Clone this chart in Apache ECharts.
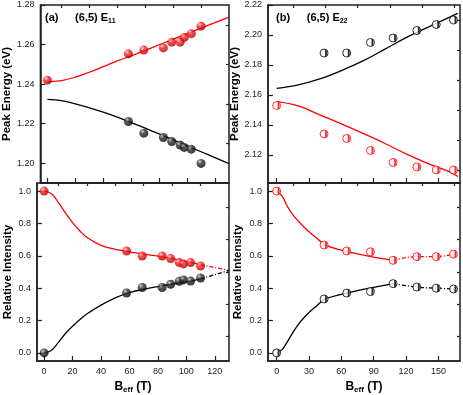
<!DOCTYPE html>
<html>
<head>
<meta charset="utf-8">
<script src="https://cdn.jsdelivr.net/npm/echarts@6/dist/echarts.min.js"></script>
<style>
  html, body { margin: 0; padding: 0; background: #fff; }
  #chart { width: 463px; height: 395px; }
</style>
</head>
<body>
<div id="chart"></div>
<script>
// ---------- (a) (6,5) E11 ----------
const beffA = [0, 58, 69, 83, 89, 95, 98, 103, 110];
const e11Up = [1.242, 1.2553, 1.2572, 1.2583, 1.2612, 1.2612, 1.2636, 1.2655, 1.2693];
const beffA2 = [58, 69, 83, 89, 95, 98, 103, 110];
const e11Down = [1.2211, 1.2152, 1.2130, 1.2110, 1.2092, 1.2080, 1.2071, 1.1999];
const intRedA = [1.0, 0.63, 0.599, 0.599, 0.583, 0.558, 0.55, 0.558, 0.537];
const intBlackA = [0.0, 0.37, 0.404, 0.404, 0.424, 0.443, 0.451, 0.444, 0.463];
// fitted curves
const fitXA = [0, 10, 20, 30, 40, 50, 60, 70, 80, 90, 100, 110, 120, 130];
const fitE11Up = [1.2413, 1.2418, 1.2435, 1.2460, 1.2488, 1.2517, 1.2543, 1.2571, 1.2599, 1.2627, 1.2655, 1.2683, 1.2711, 1.2739];
const fitE11Down = [1.2323, 1.2316, 1.2300, 1.2280, 1.2258, 1.2233, 1.2205, 1.2177, 1.2148, 1.2118, 1.2088, 1.2058, 1.2028, 1.1998];
const fitIntXA = [0, 5, 10, 15, 20, 25, 30, 40, 50, 60, 70, 80, 90, 100, 110, 120, 130];
const fitIntRedA = [1.0, 0.985, 0.93, 0.865, 0.805, 0.755, 0.715, 0.665, 0.64, 0.625, 0.61, 0.598, 0.583, 0.565, 0.545, 0.528, 0.51];
const fitIntBlackA = [0.0, 0.015, 0.065, 0.12, 0.165, 0.205, 0.24, 0.295, 0.34, 0.372, 0.393, 0.41, 0.425, 0.44, 0.458, 0.483, 0.51];

// ---------- (b) (6,5) E22 ----------
const beffB = [0, 44, 65, 87, 108, 130, 148, 164];
const beffB2 = [44, 65, 87, 108, 130, 148, 164];
const e22Up = [2.188, 2.188, 2.195, 2.198, 2.203, 2.207, 2.210];
const e22Down = [2.153, 2.134, 2.131, 2.123, 2.115, 2.112, 2.110, 2.110];
const intRedB = [1.0, 0.667, 0.63, 0.625, 0.572, 0.595, 0.595, 0.61];
const intBlackB = [0.0, 0.333, 0.37, 0.379, 0.428, 0.407, 0.40, 0.395];
const fitXB = [0, 20, 40, 60, 80, 100, 120, 140, 160, 168];
const fitE22Up = [2.1644, 2.1667, 2.1707, 2.1762, 2.1827, 2.1904, 2.1982, 2.2051, 2.2118, 2.2144];
const fitE22Down = [2.1555, 2.1527, 2.1467, 2.1407, 2.1344, 2.1278, 2.1207, 2.1144, 2.1089, 2.1056];
const fitIntXB = [0, 5, 10, 15, 20, 25, 30, 37, 45, 60, 75, 90, 108];
const fitIntRedB = [1.0, 0.97, 0.905, 0.855, 0.815, 0.78, 0.75, 0.71, 0.668, 0.635, 0.612, 0.592, 0.572];
const fitIntBlackB = [0.0, 0.02, 0.07, 0.125, 0.175, 0.215, 0.25, 0.29, 0.333, 0.362, 0.385, 0.405, 0.428];

// tick values
const xTicksA = [0, 20, 40, 60, 80, 100, 120];
const xMinorA = [10, 30, 50, 70, 90, 110];
const xTicksB = [0, 30, 60, 90, 120, 150];
const xMinorB = [15, 45, 75, 105, 135, 165];
const yTicksA = [1.20, 1.22, 1.24, 1.26, 1.28];
const yMinorA = [1.21, 1.23, 1.25, 1.27];
const yTicksB = [2.12, 2.14, 2.16, 2.18, 2.20, 2.22];
const yMinorB = [2.11, 2.13, 2.15, 2.17, 2.19, 2.21];
const yTicksI = [0.0, 0.2, 0.4, 0.6, 0.8, 1.0];
const yMinorI = [0.1, 0.3, 0.5, 0.7, 0.9];

const FONT = 'Liberation Sans';
const lineC = '#222';
const RED = '#ff0000';

const pair = (xs, ys) => xs.map((x, i) => [x, ys[i]]);
const upTo = (d, x) => d.filter(p => p[0] <= x);
const from = (d, x) => d.filter(p => p[0] >= x);

function majorAxis(gridIndex, min, max, ticks, digits, extra) {
    let label = digits == null ? { show: false } : {
        show: true, customValues: ticks, formatter: v => v.toFixed(digits),
        fontFamily: FONT, fontSize: 9, color: '#1a1a2a', margin: 6
    };
    return Object.assign({
        gridIndex: gridIndex, type: 'value', min: min, max: max,
        splitLine: { show: false },
        axisLine: { show: true, onZero: false, lineStyle: { color: lineC, width: 1.5 } },
        axisTick: { show: true, inside: true, length: 5, customValues: ticks, lineStyle: { color: lineC, width: 1.2 } },
        axisLabel: label
    }, extra || {});
}
function minorAxis(gridIndex, min, max, ticks) {
    return {
        gridIndex: gridIndex, type: 'value', min: min, max: max,
        splitLine: { show: false },
        axisLine: { show: false, onZero: false },
        axisTick: { show: true, inside: true, length: 3, customValues: ticks, lineStyle: { color: lineC, width: 1.2 } },
        axisLabel: { show: false }
    };
}

const xName = {
    name: 'B{s|eff} (T)', nameLocation: 'middle', nameGap: 18,
    nameTextStyle: {
        fontFamily: FONT, fontWeight: 'bold', fontSize: 12, color: '#000',
        rich: { s: { fontFamily: FONT, fontWeight: 'bold', fontSize: 8, padding: [7, 0, 0, 0] } }
    }
};
function yName(text, gap) {
    return {
        name: text, nameLocation: 'middle', nameGap: gap,
        nameTextStyle: { fontFamily: FONT, fontWeight: 'bold', fontSize: 11.5, color: '#000' }
    };
}

// ball-like markers for panel (a)
const redBall = new echarts.graphic.RadialGradient(0.35, 0.3, 0.75, [
    { offset: 0, color: '#ffd6d6' }, { offset: 0.35, color: '#ff2020' }, { offset: 1, color: '#a00000' }]);
const blackBall = new echarts.graphic.RadialGradient(0.35, 0.3, 0.75, [
    { offset: 0, color: '#c8c8c8' }, { offset: 0.35, color: '#333' }, { offset: 1, color: '#000' }]);

function fit(data, color, ax, dashed) {
    return {
        type: 'line', data: data, xAxisIndex: ax, yAxisIndex: ax, smooth: 0.4,
        showSymbol: false, symbol: 'none', z: 2, silent: true,
        lineStyle: { color: color, width: 1.3, type: dashed ? [4, 2, 1, 2] : 'solid' }
    };
}
function balls(data, fill, ax) {
    return {
        type: 'scatter', data: data, xAxisIndex: ax, yAxisIndex: ax, symbolSize: 9, z: 4,
        itemStyle: { color: fill }
    };
}
function halves(data, color, ax) {
    return [{
        type: 'scatter', data: data, xAxisIndex: ax, yAxisIndex: ax, symbol: 'circle', symbolSize: 8, z: 4,
        itemStyle: { color: '#fff', borderColor: color, borderWidth: 1 }
    }, {
        type: 'scatter', data: data, xAxisIndex: ax, yAxisIndex: ax,
        symbol: 'path://M0,0 A10,10 0 0 1 0,20 Z', symbolKeepAspect: true,
        symbolSize: [4, 8], symbolOffset: [2, 0], z: 5,
        itemStyle: { color: color }
    }];
}

const fitRedA = pair(fitIntXA, fitIntRedA);
const fitBlackA = pair(fitIntXA, fitIntBlackA);
const ptsRedB = pair(beffB, intRedB);
const ptsBlackB = pair(beffB, intBlackB);

const myChart = echarts.init(document.getElementById('chart'));
const option = {
    animation: false,
    backgroundColor: '#fff',
    grid: [
        { left: 37, top: 5, width: 192, height: 178 },
        { left: 37, top: 183, width: 192, height: 179 },
        { left: 268, top: 5, width: 192, height: 178 },
        { left: 268, top: 183, width: 192, height: 179 }
    ].map(g => Object.assign(g, { show: true, borderColor: lineC, borderWidth: 1.5, backgroundColor: 'transparent' })),
    xAxis: [
        majorAxis(0, -5, 130, xTicksA, null),
        majorAxis(1, -5, 130, xTicksA, 0, xName),
        majorAxis(2, -8, 170, xTicksB, null),
        majorAxis(3, -8, 170, xTicksB, 0, xName),
        minorAxis(0, -5, 130, xMinorA),
        minorAxis(1, -5, 130, xMinorA),
        minorAxis(2, -8, 170, xMinorB),
        minorAxis(3, -8, 170, xMinorB)
    ],
    yAxis: [
        majorAxis(0, 1.19, 1.28, yTicksA, 2, yName('Peak Energy (eV)', 23)),
        majorAxis(1, -0.05, 1.05, yTicksI, 1, yName('Relative Intensity', 23)),
        majorAxis(2, 2.1013, 2.22, yTicksB, 2, yName('Peak Energy (eV)', 24)),
        majorAxis(3, -0.05, 1.05, yTicksI, 1, yName('Relative Intensity', 24)),
        minorAxis(0, 1.19, 1.28, yMinorA),
        minorAxis(1, -0.05, 1.05, yMinorI),
        minorAxis(2, 2.1013, 2.22, yMinorB),
        minorAxis(3, -0.05, 1.05, yMinorI)
    ],
    graphic: [
        {
            type: 'text', left: 45, top: 12,
            style: {
                text: '{b|(a)}     {b|(6,5) E}{s|11}', fill: '#000',
                rich: {
                    b: { fontFamily: FONT, fontWeight: 'bold', fontSize: 11 },
                    s: { fontFamily: FONT, fontWeight: 'bold', fontSize: 7, padding: [6, 0, 0, 0] }
                }
            }
        },
        {
            type: 'text', left: 276, top: 12,
            style: {
                text: '{b|(b)}     {b|(6,5) E}{s|22}', fill: '#000',
                rich: {
                    b: { fontFamily: FONT, fontWeight: 'bold', fontSize: 11 },
                    s: { fontFamily: FONT, fontWeight: 'bold', fontSize: 7, padding: [6, 0, 0, 0] }
                }
            }
        }
    ],
    series: [
        // (a) energies
        fit(pair(fitXA, fitE11Up), RED, 0),
        fit(pair(fitXA, fitE11Down), '#000', 0),
        balls(pair(beffA, e11Up), redBall, 0),
        balls(pair(beffA2, e11Down), blackBall, 0),
        // (a) intensities
        fit(upTo(fitRedA, 110), RED, 1),
        fit(from(fitRedA, 110), RED, 1, true),
        fit(upTo(fitBlackA, 110), '#000', 1),
        fit(from(fitBlackA, 110), '#000', 1, true),
        balls(pair(beffA, intRedA), redBall, 1),
        balls(pair(beffA, intBlackA), blackBall, 1),
        // (b) energies
        fit(pair(fitXB, fitE22Up), '#000', 2),
        fit(pair(fitXB, fitE22Down), RED, 2),
        ...halves(pair(beffB2, e22Up), '#000', 2),
        ...halves(pair(beffB, e22Down), RED, 2),
        // (b) intensities
        fit(pair(fitIntXB, fitIntRedB), RED, 3),
        fit(from(ptsRedB, 108), RED, 3, true),
        fit(pair(fitIntXB, fitIntBlackB), '#000', 3),
        fit(from(ptsBlackB, 108), '#000', 3, true),
        ...halves(ptsRedB, RED, 3),
        ...halves(ptsBlackB, '#000', 3)
    ]
};

myChart.setOption(option);
</script>
</body>
</html>
